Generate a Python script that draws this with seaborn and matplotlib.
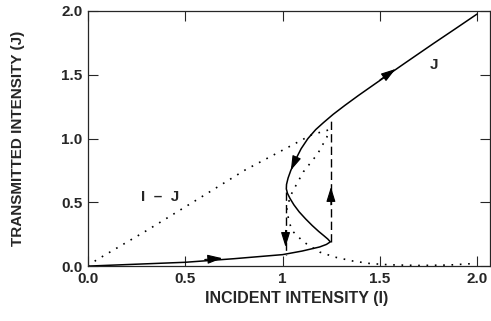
import matplotlib
matplotlib.use("Agg")
import matplotlib.pyplot as plt
import pandas as pd
import seaborn as sns

# transmitted intensity J, read along the S-shaped path (lower, middle, upper branch)
inc_I = [0.0, 0.25, 0.5, 0.75, 1.0, 1.1, 1.19, 1.225, 1.245, 1.232, 1.212, 1.185, 1.152,
         1.118, 1.085, 1.058, 1.038, 1.025, 1.019, 1.02, 1.028, 1.042, 1.065, 1.095, 1.13,
         1.17, 1.21, 1.26, 1.32, 1.39, 1.476, 1.561, 1.63, 1.775, 1.887, 1.998]
trans_J = [0.0, 0.015, 0.03, 0.058, 0.09, 0.118, 0.15, 0.17, 0.19, 0.212, 0.238, 0.272, 0.318,
           0.37, 0.425, 0.48, 0.53, 0.57, 0.605, 0.64, 0.69, 0.75, 0.83, 0.92, 1.0,
           1.07, 1.125, 1.19, 1.26, 1.338, 1.43, 1.52, 1.593, 1.745, 1.86, 1.975]

# I - J along the same path
diff_I = [0.0, 0.043, 0.30, 0.549, 0.807, 0.936, 1.15, 1.236, 1.227, 1.18, 1.107, 1.064,
          1.04, 1.022, 1.03, 1.047, 1.107, 1.19, 1.27, 1.363, 1.45, 1.55, 1.7, 1.85, 1.98]
diff_J = [0.0, 0.047, 0.277, 0.51, 0.753, 0.857, 1.03, 1.067, 1.01, 0.88, 0.74, 0.62,
          0.55, 0.45, 0.37, 0.28, 0.19, 0.11, 0.07, 0.039, 0.02, 0.01, 0.005, 0.008, 0.02]

# switching jumps (dashed)
down_I = [1.015, 1.015]
down_J = [0.58, 0.09]
up_I = [1.248, 1.248]
up_J = [0.19, 1.14]

# arrow heads: (tail, tip)
arrows = [((0.60, 0.052), (0.69, 0.062)),
          ((1.50, 1.46), (1.58, 1.545)),
          ((1.065, 0.83), (1.042, 0.75)),
          ((1.015, 0.28), (1.015, 0.15)),
          ((1.248, 0.48), (1.248, 0.62))]

x_ticks = [0.0, 0.5, 1.0, 1.5, 2.0]
x_labels = ["0.0", "0.5", "1", "1.5", "2.0"]
y_ticks = [0.0, 0.5, 1.0, 1.5, 2.0]
y_labels = ["0.0", "0.5", "1.0", "1.5", "2.0"]

sns.set_style("ticks")
plt.rcParams['font.family'] = ['Liberation Sans', 'DejaVu Sans']

df_J = pd.DataFrame({"I": inc_I, "J": trans_J})
df_D = pd.DataFrame({"I": diff_I, "D": diff_J})

fig = plt.figure(figsize=(4.91, 3.21), dpi=100)
ax = fig.add_axes([0.179, 0.171, 0.819, 0.795])

sns.lineplot(data=df_J, x="I", y="J", sort=False, estimator=None, color="black", lw=1.1, ax=ax)
sns.lineplot(data=df_D, x="I", y="D", sort=False, estimator=None, color="black", lw=1.2,
             linestyle=(0, (1, 4)), ax=ax)
sns.lineplot(x=down_I, y=down_J, sort=False, estimator=None, color="black", lw=1.0,
             linestyle=(0, (6, 3)), ax=ax)
sns.lineplot(x=up_I, y=up_J, sort=False, estimator=None, color="black", lw=1.0,
             linestyle=(0, (6, 3)), ax=ax)

for tail, tip in arrows:
    ax.annotate("", xy=tip, xytext=tail,
                arrowprops=dict(arrowstyle="-|>,head_length=0.9,head_width=0.28",
                                color="black", lw=0.8, shrinkA=0, shrinkB=0))

ax.text(0.37, 0.545, "I  \u2013  J", fontsize=11, fontweight="bold", ha="center", va="center")
ax.text(1.775, 1.58, "J", fontsize=11, fontweight="bold", ha="center", va="center")

ax.set_xlim(0, 2.065)
ax.set_ylim(0, 2.0)
ax.set_xticks(x_ticks)
ax.set_xticklabels(x_labels)
ax.set_yticks(y_ticks)
ax.set_yticklabels(y_labels)
ax.tick_params(direction="in", top=True, right=True, length=7, width=0.8,
               labelsize=11, pad=4)
for lab in ax.get_xticklabels() + ax.get_yticklabels():
    lab.set_fontweight("bold")
for sp in ax.spines.values():
    sp.set_linewidth(0.9)
    sp.set_visible(True)

ax.set_xlabel("INCIDENT INTENSITY (I)", fontsize=11.5, fontweight="bold", va="center")
ax.set_ylabel("TRANSMITTED INTENSITY (J)", fontsize=11, fontweight="bold", va="center")
ax.xaxis.set_label_coords(0.52, -0.125)
ax.yaxis.set_label_coords(-0.173, 0.5)

fig.savefig("out.png", dpi=100)
